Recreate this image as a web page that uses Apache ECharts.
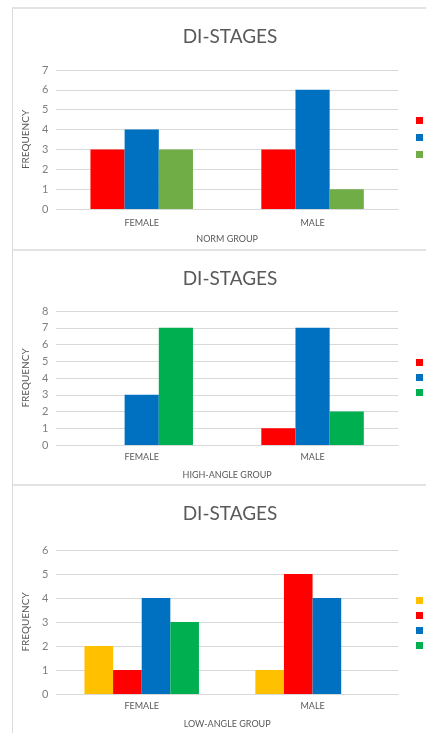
<!DOCTYPE html>
<html>
<head>
<meta charset="utf-8">
<script src="https://cdn.jsdelivr.net/npm/echarts@6/dist/echarts.min.js"></script>
<style>
    html, body { margin: 0; padding: 0; background: #fff; }
    body { width: 426px; height: 733px; overflow: hidden; position: relative; }
    .panel { position: absolute; left: 12px; width: 434px; border-left: 1px solid #d9d9d9; border-top: 2px solid #e3e3e3; background: #fff; }
</style>
</head>
<body>
<div id="norm" class="panel" style="top:7px;height:240px;"></div>
<div id="high" class="panel" style="top:249px;height:235px;"></div>
<div id="low" class="panel" style="top:484px;height:249px;"></div>
<script>
// 类别
var genders = ['FEMALE', 'MALE'];

// NORM GROUP
var normStages = ['F', 'G', 'H'];
var normF = [3, 3];
var normG = [4, 6];
var normH = [3, 1];

// HIGH-ANGLE GROUP
var highStages = ['F', 'G', 'H'];
var highF = [0, 1];
var highG = [3, 7];
var highH = [7, 2];

// LOW-ANGLE GROUP
var lowStages = ['E', 'F', 'G', 'H'];
var lowE = [2, 1];
var lowF = [1, 5];
var lowG = [4, 4];
var lowH = [3, 0];

var textColor = '#595959';
var lineColor = '#d9d9d9';
var font = 'Lato';

// 创建单个柱状图
var createPanel = function (id, cfg) {
    var chart = echarts.init(document.getElementById(id));
    var series = [];
    for (var i = 0; i < cfg.names.length; i++) {
        series.push({
            name: cfg.names[i],
            type: 'bar',
            data: cfg.values[i],
            barGap: 0,
            barCategoryGap: cfg.gap,
            itemStyle: {color: cfg.colors[i]},
            silent: true
        });
    }
    var option = {
        animation: false,
        textStyle: {fontFamily: font},
        title: {
            text: 'DI-STAGES',
            left: 'center',
            top: cfg.titleTop,
            textStyle: {fontFamily: font, fontSize: 19, fontWeight: 'normal', color: textColor}
        },
        legend: {
            orient: 'vertical',
            left: 398,
            top: cfg.legendTop,
            itemWidth: 7,
            itemHeight: 7,
            itemGap: cfg.legendGap,
            icon: 'rect',
            data: cfg.names,
            textStyle: {fontFamily: font, fontSize: 9, lineHeight: 7, color: textColor}
        },
        grid: {left: 40, right: 49, top: cfg.gridTop, bottom: cfg.gridBottom},
        xAxis: {
            type: 'category',
            data: genders,
            name: cfg.group,
            nameLocation: 'middle',
            nameGap: cfg.nameGap,
            nameTextStyle: {fontFamily: font, fontSize: 9, color: textColor},
            axisLine: {lineStyle: {color: lineColor}},
            axisTick: {show: false},
            axisLabel: {fontFamily: font, fontSize: 9, color: textColor, margin: cfg.labelMargin}
        },
        yAxis: {
            type: 'value',
            min: 0,
            max: cfg.max,
            interval: 1,
            name: 'FREQUENCY',
            nameLocation: 'middle',
            nameGap: 16,
            nameTextStyle: {fontFamily: font, fontSize: 10, color: textColor},
            axisLine: {show: false},
            axisTick: {show: false},
            splitLine: {lineStyle: {color: lineColor}},
            axisLabel: {fontFamily: font, fontSize: 11, color: '#7f7f7f', margin: 8}
        },
        series: series
    };
    chart.setOption(option);
    return chart;
};

createPanel('norm', {
    names: normStages,
    values: [normF, normG, normH],
    colors: ['#ff0000', '#0070c0', '#70ad47'],
    group: 'NORM GROUP',
    max: 7,
    gap: '40%',
    titleTop: 13,
    legendTop: 102,
    legendGap: 8,
    gridTop: 61,
    gridBottom: 40,
    labelMargin: 10,
    nameGap: 26
});

createPanel('high', {
    names: highStages,
    values: [highF, highG, highH],
    colors: ['#ff0000', '#0070c0', '#00b050'],
    group: 'HIGH-ANGLE GROUP',
    max: 8,
    gap: '40%',
    titleTop: 13,
    legendTop: 102,
    legendGap: 6,
    gridTop: 60,
    gridBottom: 41,
    labelMargin: 8,
    nameGap: 26
});

createPanel('low', {
    names: lowStages,
    values: [lowE, lowF, lowG, lowH],
    colors: ['#ffc000', '#ff0000', '#0070c0', '#00b050'],
    group: 'LOW-ANGLE GROUP',
    max: 6,
    gap: '33%',
    titleTop: 13,
    legendTop: 105,
    legendGap: 6,
    gridTop: 64,
    gridBottom: 41,
    labelMargin: 8,
    nameGap: 26
});
</script>
</body>
</html>
